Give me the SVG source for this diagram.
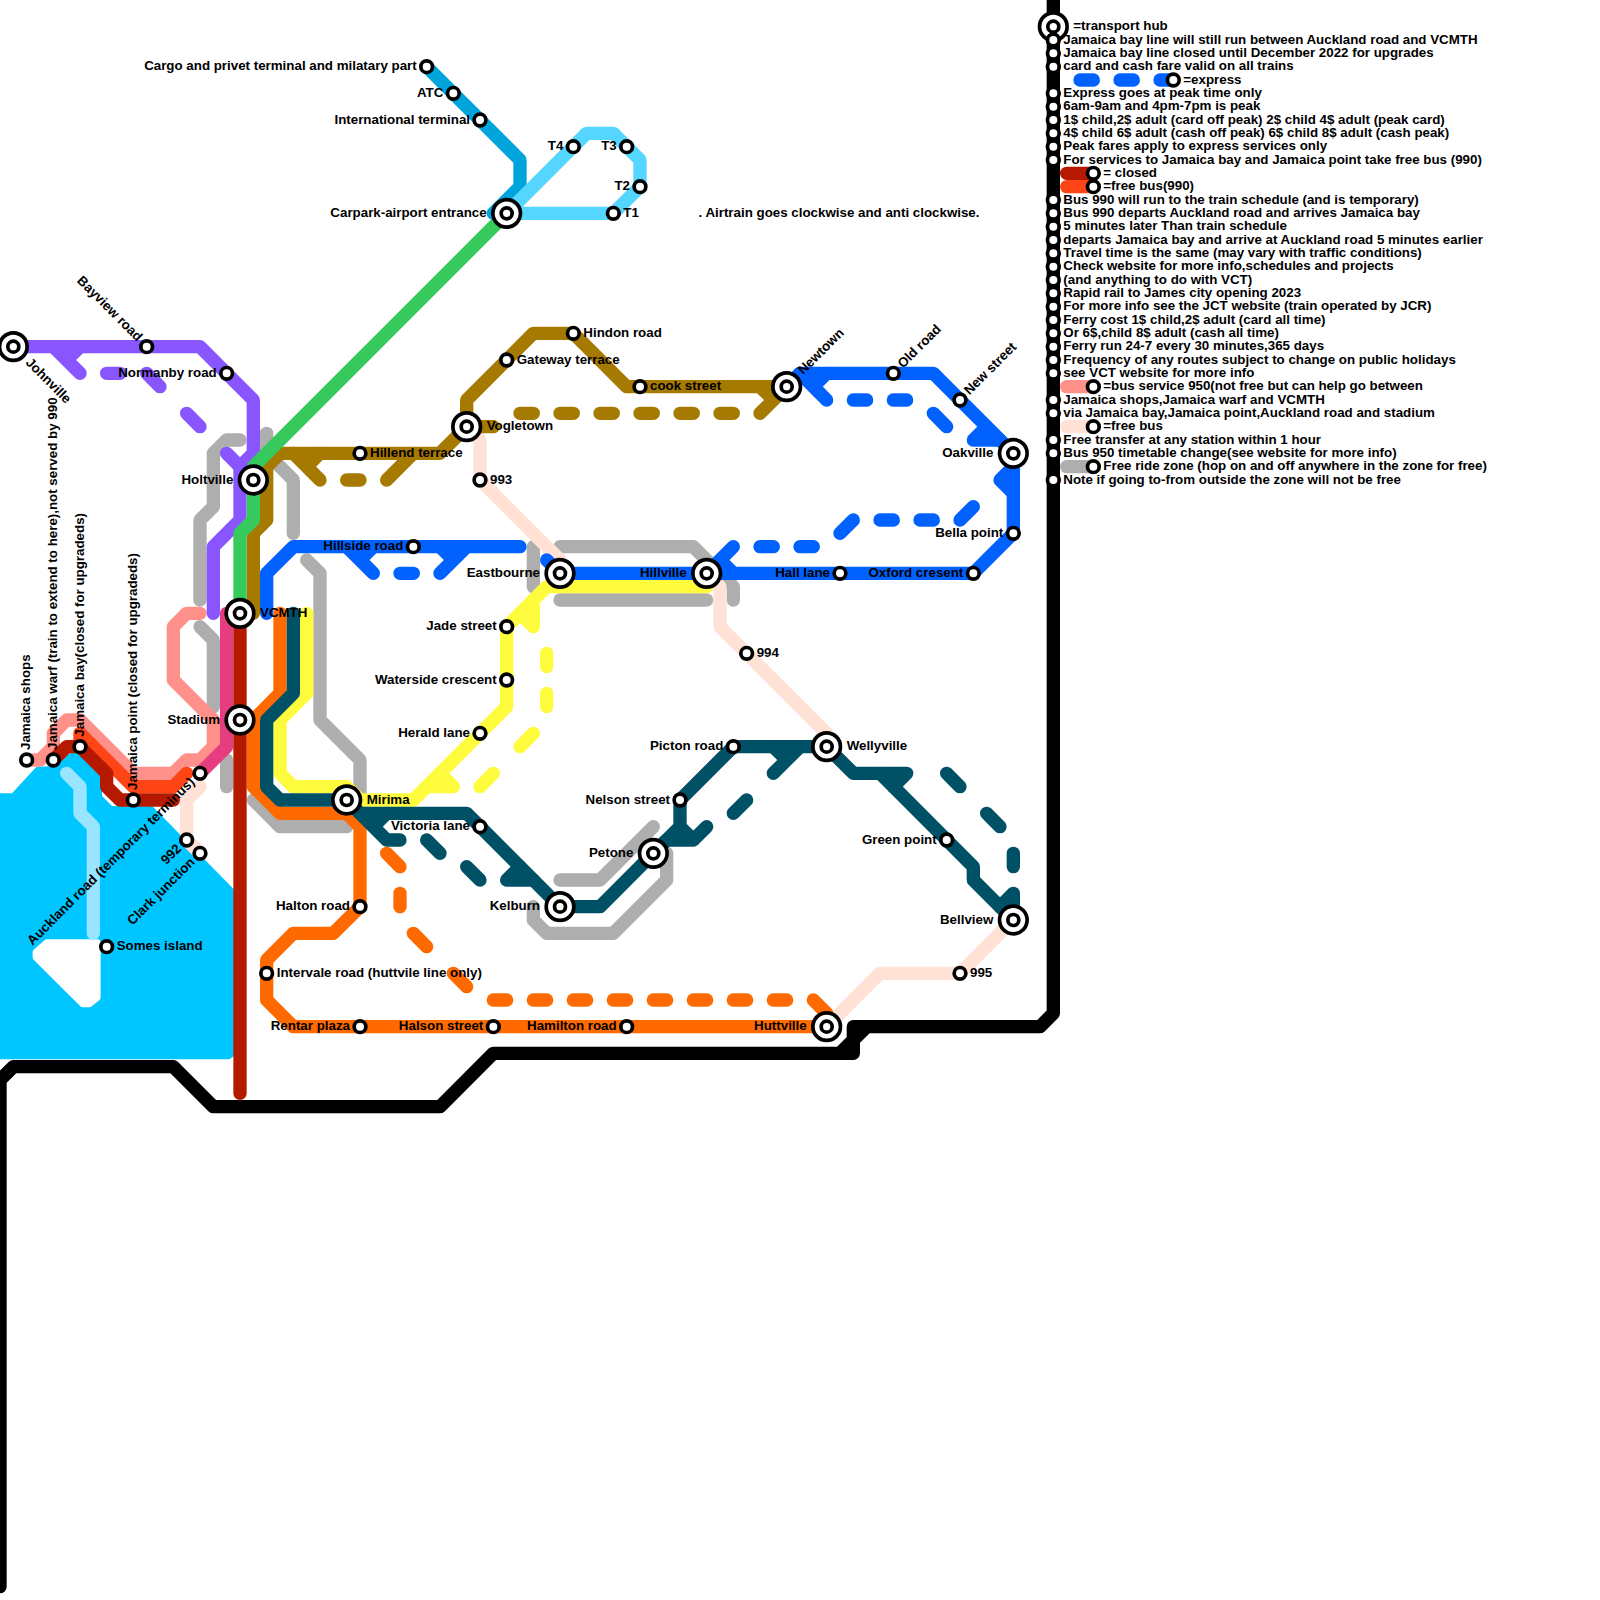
<svg xmlns="http://www.w3.org/2000/svg" width="1600" height="1600" viewBox="0 0 1600 1600">
<style>
text{font-family:"Liberation Sans",Arial,sans-serif;font-size:13.33px;font-weight:bold;fill:#000}
.e{text-anchor:end}
.l path{fill:none;stroke-width:1;stroke-linecap:round;stroke-linejoin:round}
.k path{stroke:#000}.gy path{stroke:#aeaeae}.pe path{stroke:#ffe1d6}.fe path{stroke:#99e5ff}
.pu path{stroke:#8855ff}.br path{stroke:#a67a00}.gr path{stroke:#36c95c}.bl path{stroke:#0061ff}
.ye path{stroke:#fffb3d}.or path{stroke:#ff6a00}.te path{stroke:#005066}.sa path{stroke:#ff908a}
.pi path{stroke:#e63d80}.or2 path{stroke:#ff4515}.dr path{stroke:#b51a00}.ab path{stroke:#00a4dc}.lb path{stroke:#55d6ff}
.w{fill:#00c6ff;stroke:#00c6ff;stroke-width:.5;stroke-linejoin:round}
.i{fill:#fff;stroke:#fff;stroke-width:.5;stroke-linejoin:round}
.s{fill:#fff;stroke:#000;stroke-width:3.7}
</style>
<defs>
<g id="s"><circle class="s" r="5.85"/></g>
<g id="h"><circle class="s" r="13.8"/><circle class="s" r="5.5"/></g>
</defs>
<g id="connectors" class="l" transform="scale(13.3333)">
<polygon class="w" points="0,59.75 1,59.75 2.85,57.75 4,57.7 5.4,56.7 5.7,56.7 7.4,58.2 7.4,59.8 8.3,60.7 11.3,60.7 17.4,66.9 17.4,79 17.15,79.2 0,79.2"/>
<polygon class="i" points="2.7,71.4 3.5,70.7 7.3,70.7 7.3,74.8 6.7,75.3 6.2,75.3 2.7,71.8"/>
<g class="fe"><path d="M5,58 L6,59 V61 L7,62 V70"/></g>
<g class="k">
<path d="M79,-1 V76 L78,77 H64 V78 L63,79 H37 L33,83 H16 L13,80 H1 L0,81 V119"/>
<path d="M65,77 L64,78 V79 H63"/>
</g>
<g class="gy">
<path d="M15,45 V39 L16,38 V34 L17,33 H18"/>
<path d="M19.5,33 L20,32.5 V34 L22,36 V40"/>
<path d="M23,42 L24,43 V54 L27,57 V60"/>
<path d="M15,47 L16,48 V53"/>
<path d="M17,57 V59"/>
<path d="M19,60 L21,62 H26"/>
<path d="M40,68 V69 L41,70 H46 L50,66 V64"/>
<path d="M42,66 H45 L49,62"/>
<path d="M40,41 V44"/>
<path d="M42,41 H52 L55,44 V45"/>
<path d="M42,45 H53"/>
<path d="M80,35 H82"/>
</g>
<g class="pe">
<path d="M35,32 L36,33 V36 L42,42 V43"/>
<path d="M53,43 L54,44 V47 L62,55 V56"/>
<path d="M62,77 L66,73 H72 L76,69"/>
<path d="M15,59 L14,60 V63 L15,64"/>
<path d="M80,32 H82"/>
</g>
<g class="sa">
<path d="M2,57 H3 L4,56 V55 L5,54 H6 L10,58 H13 L14,57 H15 L16,56 V54 L13,51 V47 L14,46 H15"/>
<path d="M80,29 H82"/>
</g>
<g class="pi"><path d="M17,46 V56 L15,58"/></g>
<g class="or2">
<path d="M6,56 V55 L10,59 H13 L14,58"/>
<path d="M80,14 H82"/>
</g>
<g class="dr">
<path d="M4,57 L5,56 H6 L8,58 V59 L9,60 H13"/>
<path d="M80,13 H82"/>
</g>
<g class="pu">
<path d="M1,26 H15 L19,30 V34 L18,35 V39 L16,41 V46"/>
<path d="M17,34 L18,35"/>
<path d="M4,26 L6,28 M6,26 L5,27"/>
<path d="M8,28 H9 M11,28 L12,29 M14,31 L15,32"/>
</g>
<g class="br">
<path d="M19,46 V40 L20,39 V35 L21,34 H33 L35,32 V30 L40,25 H43 L47,29 H59"/>
<path d="M22,34 L24,36 M24,34 L23,35 M26,36 H27 M29,36 L31,34"/>
<path d="M35,32 H37 M39,31 H40 M42,31 H43 M45,31 H46 M48,31 H49 M51,31 H52 M54,31 H55 M59,29 L57,31 M57,29 L58,30"/>
</g>
<g class="gr"><path d="M38,16 L19,35 V39 L18,40 V46"/></g>
<g class="ab"><path d="M32,5 L39,12 V14 L37,16"/></g>
<g class="lb"><path d="M38,16 H46 L48,14 V12 L46,10 H44 L38,16"/></g>
<g class="bl">
<path d="M20,46 V43 L22,41 H39"/>
<path d="M26,41 L28,43 M28,41 L27,42 M30,43 H31 M33,43 L35,41 M33,41 L34,42"/>
<path d="M41,42 L42,43 H73 L76,40 V34 L70,28 H60 L59,29"/>
<path d="M53,43 L55,41 M55,43 L54,42 M57,41 H58 M60,41 H61 M63,40 L64,39 M66,39 H67 M69,39 H70 M72,39 L73,38"/>
<path d="M75,36 L76,35 M75,36 L76,37"/>
<path d="M60,28 L62,30 M62,28 L61,29 M64,30 H65 M67,30 H68 M70,31 L71,32"/>
<path d="M73,33 H75 M73,33 L74,32"/>
<path d="M81,6 H82 M84,6 H85 M87,6 H88"/>
</g>
<g class="or">
<path d="M21,46 V52 L19,54 V59 L21,61 H26 L27,62 V68 L25,70 H22 L20,72 V75 L22,77 H62"/>
<path d="M29,64 L30,65 M30,67 V68 M31,70 L32,71 M34,73 L35,74"/>
<path d="M37,75 H38 M40,75 H41 M43,75 H44 M46,75 H47 M49,75 H50 M52,75 H53 M55,75 H56 M58,75 H59 M61,75 L62,76"/>
</g>
<g class="ye">
<path d="M23,46 V52 L21,54 V58 L22,59 H26 L27,60 H31 L38,53 V47 L41,44 H53"/>
<path d="M40,45 V47 L39,46"/>
<path d="M41,49 V50 M41,52 V53 M39,56 L40,55 M36,59 L37,58"/>
<path d="M34,59 L33,58 M34,59 H32"/>
</g>
<g class="te">
<path d="M22,46 V52 L20,54 V59 L21,60 H26 L27,61 H35 L42,68 H45 L49,64 L51,62 V60 L55,56 H62 L64,58 H66 L73,65 V66 L76,69"/>
<path d="M27,61 L29,63 H30 M29,61 L28,62"/>
<path d="M32,63 L33,64 M35,65 L36,66 M38,66 L39,65 M38,66 H40"/>
<path d="M49,64 L50,63 H52 L53,62 M51,62 L52,63"/>
<path d="M55,61 L56,60 M60,56 L58,58 M58,56 L59,57"/>
<path d="M66,58 H68 L67,59 M71,58 L72,59 M74,61 L75,62 M76,64 V65"/>
<path d="M76,69 V67 L75,68"/>
</g>
<g class="dr"><path d="M18,46 V82"/></g>
</g>
<g id="n-johnville"><use href="#h" x="13.33" y="346.67"/><text transform="rotate(45 13.33 346.67)" x="33.33" y="350.2">Johnville</text></g>
<g id="n-bayview"><use href="#s" x="146.67" y="346.67"/><text class="e" transform="rotate(45 146.67 346.67)" x="136.7" y="350.2">Bayview road</text></g>
<g id="n-normanby"><use href="#s" x="226.67" y="373.33"/><text class="e" x="216.7" y="376.9">Normanby road</text></g>
<g id="n-holtville"><use href="#h" x="253.33" y="480"/><text class="e" x="233.33" y="483.5">Holtville</text></g>
<g id="n-vcmth"><use href="#h" x="240" y="613.33"/><text x="260" y="616.9">VCMTH</text></g>
<g id="n-stadium"><use href="#h" x="240" y="720"/><text class="e" x="220" y="723.5">Stadium</text></g>
<g id="n-mirima"><use href="#h" x="346.67" y="800"/><text x="366.67" y="803.5">Mirima</text></g>
<g id="n-victoria"><use href="#s" x="480" y="826.67"/><text class="e" x="470" y="830.2">Victoria lane</text></g>
<g id="n-kelburn"><use href="#h" x="560" y="906.67"/><text class="e" x="540" y="910.2">Kelburn</text></g>
<g id="n-petone"><use href="#h" x="653.33" y="853.33"/><text class="e" x="633.33" y="856.9">Petone</text></g>
<g id="n-nelson"><use href="#s" x="680" y="800"/><text class="e" x="670" y="803.5">Nelson street</text></g>
<g id="n-picton"><use href="#s" x="733.33" y="746.67"/><text class="e" x="723.3" y="750.2">Picton road</text></g>
<g id="n-wellyville"><use href="#h" x="826.67" y="746.67"/><text x="846.67" y="750.2">Wellyville</text></g>
<g id="n-green"><use href="#s" x="946.67" y="840"/><text class="e" x="936.7" y="843.5">Green point</text></g>
<g id="n-bellview"><use href="#h" x="1013.33" y="920"/><text class="e" x="993.33" y="923.5">Bellview</text></g>
<g id="n-995"><use href="#s" x="960" y="973.33"/><text x="970" y="976.9">995</text></g>
<g id="n-huttville"><use href="#h" x="826.67" y="1026.67"/><text class="e" x="806.67" y="1030.2">Huttville</text></g>
<g id="n-hamilton"><use href="#s" x="626.67" y="1026.67"/><text class="e" x="616.7" y="1030.2">Hamilton road</text></g>
<g id="n-halson"><use href="#s" x="493.33" y="1026.67"/><text class="e" x="483.3" y="1030.2">Halson street</text></g>
<g id="n-rentar"><use href="#s" x="360" y="1026.67"/><text class="e" x="350" y="1030.2">Rentar plaza</text></g>
<g id="n-intervale"><use href="#s" x="266.67" y="973.33"/><text x="276.7" y="976.9">Intervale road (huttvile line only)</text></g>
<g id="n-halton"><use href="#s" x="360" y="906.67"/><text class="e" x="350" y="910.2">Halton road</text></g>
<g id="n-hillside"><use href="#s" x="413.33" y="546.67"/><text class="e" x="403.3" y="550.2">Hillside road</text></g>
<g id="n-eastbourne"><use href="#h" x="560" y="573.33"/><text class="e" x="540" y="576.9">Eastbourne</text></g>
<g id="n-hillville"><use href="#h" x="706.67" y="573.33"/><text class="e" x="686.67" y="576.9">Hillville</text></g>
<g id="n-hall"><use href="#s" x="840" y="573.33"/><text class="e" x="830" y="576.9">Hall lane</text></g>
<g id="n-oxford"><use href="#s" x="973.33" y="573.33"/><text class="e" x="963.3" y="576.9">Oxford cresent</text></g>
<g id="n-bella"><use href="#s" x="1013.33" y="533.33"/><text class="e" x="1003.3" y="536.9">Bella point</text></g>
<g id="n-oakville"><use href="#h" x="1013.33" y="453.33"/><text class="e" x="993.33" y="456.9">Oakville</text></g>
<g id="n-newstreet"><use href="#s" x="960" y="400"/><text transform="rotate(-45 960 400)" x="970" y="403.5">New street</text></g>
<g id="n-oldroad"><use href="#s" x="893.33" y="373.33"/><text transform="rotate(-45 893.33 373.33)" x="903.3" y="376.9">Old road</text></g>
<g id="n-newtown"><use href="#h" x="786.67" y="386.67"/><text transform="rotate(-45 786.67 386.67)" x="806.67" y="390.2">Newtown</text></g>
<g id="n-cook"><use href="#s" x="640" y="386.67"/><text x="650" y="390.2">cook street</text></g>
<g id="n-hindon"><use href="#s" x="573.33" y="333.33"/><text x="583.3" y="336.9">Hindon road</text></g>
<g id="n-gateway"><use href="#s" x="506.67" y="360"/><text x="516.7" y="363.5">Gateway terrace</text></g>
<g id="n-vogletown"><use href="#h" x="466.67" y="426.67"/><text x="486.67" y="430.2">Vogletown</text></g>
<g id="n-hillend"><use href="#s" x="360" y="453.33"/><text x="370" y="456.9">Hillend terrace</text></g>
<g id="n-993"><use href="#s" x="480" y="480"/><text x="490" y="483.5">993</text></g>
<g id="n-994"><use href="#s" x="746.67" y="653.33"/><text x="756.7" y="656.9">994</text></g>
<g id="n-jade"><use href="#s" x="506.67" y="626.67"/><text class="e" x="496.7" y="630.2">Jade street</text></g>
<g id="n-waterside"><use href="#s" x="506.67" y="680"/><text class="e" x="496.7" y="683.5">Waterside crescent</text></g>
<g id="n-herald"><use href="#s" x="480" y="733.33"/><text class="e" x="470" y="736.9">Herald lane</text></g>
<g id="n-cargo"><use href="#s" x="426.67" y="66.67"/><text class="e" x="416.7" y="70.2">Cargo and privet terminal and milatary part</text></g>
<g id="n-atc"><use href="#s" x="453.33" y="93.33"/><text class="e" x="443.3" y="96.9">ATC</text></g>
<g id="n-international"><use href="#s" x="480" y="120"/><text class="e" x="470" y="123.5">International terminal</text></g>
<g id="n-carpark"><use href="#h" x="506.67" y="213.33"/><text class="e" x="486.67" y="216.9">Carpark-airport entrance</text></g>
<g id="n-t4"><use href="#s" x="573.33" y="146.67"/><text class="e" x="563.3" y="150.2">T4</text></g>
<g id="n-t3"><use href="#s" x="626.67" y="146.67"/><text class="e" x="616.7" y="150.2">T3</text></g>
<g id="n-t2"><use href="#s" x="640" y="186.67"/><text class="e" x="630" y="190.2">T2</text></g>
<g id="n-t1"><use href="#s" x="613.33" y="213.33"/><text x="623.3" y="216.9">T1</text></g>
<g id="n-airtrain-note"><text x="698.5" y="216.9">. Airtrain goes clockwise and anti clockwise.</text></g>
<g id="n-jshops"><use href="#s" x="26.67" y="760"/><text transform="rotate(-90 26.67 760)" x="36.7" y="763.5">Jamaica shops</text></g>
<g id="n-jwarf"><use href="#s" x="53.33" y="760"/><text transform="rotate(-90 53.33 760)" x="63.3" y="763.5">Jamaica warf (train to extend to here),not served by 990</text></g>
<g id="n-jbay"><use href="#s" x="80" y="746.67"/><text transform="rotate(-90 80 746.67)" x="90" y="750.2">Jamaica bay(closed for upgradeds)</text></g>
<g id="n-jpoint"><use href="#s" x="133.33" y="800"/><text transform="rotate(-90 133.33 800)" x="143.3" y="803.5">Jamaica point (closed for upgradeds)</text></g>
<g id="n-auckland"><use href="#s" x="200" y="773.33"/><text class="e" transform="rotate(-45 200 773.33)" x="190" y="776.9">Auckland road (temporary terminus)</text></g>
<g id="n-992"><use href="#s" x="186.67" y="840"/><text class="e" transform="rotate(-45 186.67 840)" x="176.7" y="843.5">992</text></g>
<g id="n-clark"><use href="#s" x="200" y="853.33"/><text class="e" transform="rotate(-45 200 853.33)" x="190" y="856.9">Clark junction</text></g>
<g id="n-somes"><use href="#s" x="106.67" y="946.67"/><text x="116.7" y="950.2">Somes island</text></g>
<g id="legend">
<g id="lg-hub"><use href="#h" x="1053.33" y="26.67"/><text x="1073.3" y="30.2">=transport hub</text></g>
<g id="lg-3"><use href="#s" x="1053.33" y="40"/><text x="1063.3" y="43.5">Jamaica bay line will still run between Auckland road and VCMTH</text></g>
<g id="lg-4"><use href="#s" x="1053.33" y="53.33"/><text x="1063.3" y="56.9">Jamaica bay line closed until December 2022 for upgrades</text></g>
<g id="lg-5"><use href="#s" x="1053.33" y="66.67"/><text x="1063.3" y="70.2">card and cash fare valid on all trains</text></g>
<g id="lg-6"><use href="#s" x="1173.33" y="80"/><text x="1183.3" y="83.5">=express</text></g>
<g id="lg-7"><use href="#s" x="1053.33" y="93.33"/><text x="1063.3" y="96.9">Express goes at peak time only</text></g>
<g id="lg-8"><use href="#s" x="1053.33" y="106.67"/><text x="1063.3" y="110.2">6am-9am and 4pm-7pm is peak</text></g>
<g id="lg-9"><use href="#s" x="1053.33" y="120"/><text x="1063.3" y="123.5">1$ child,2$ adult (card off peak) 2$ child 4$ adult (peak card)</text></g>
<g id="lg-10"><use href="#s" x="1053.33" y="133.33"/><text x="1063.3" y="136.9">4$ child 6$ adult (cash off peak) 6$ child 8$ adult (cash peak)</text></g>
<g id="lg-11"><use href="#s" x="1053.33" y="146.67"/><text x="1063.3" y="150.2">Peak fares apply to express services only</text></g>
<g id="lg-12"><use href="#s" x="1053.33" y="160"/><text x="1063.3" y="163.5">For services to Jamaica bay and Jamaica point take free bus (990)</text></g>
<g id="lg-13"><use href="#s" x="1093.33" y="173.33"/><text x="1103.3" y="176.9">= closed</text></g>
<g id="lg-14"><use href="#s" x="1093.33" y="186.67"/><text x="1103.3" y="190.2">=free bus(990)</text></g>
<g id="lg-15"><use href="#s" x="1053.33" y="200"/><text x="1063.3" y="203.5">Bus 990 will run to the train schedule (and is temporary)</text></g>
<g id="lg-16"><use href="#s" x="1053.33" y="213.33"/><text x="1063.3" y="216.9">Bus 990 departs Auckland road and arrives Jamaica bay</text></g>
<g id="lg-17"><use href="#s" x="1053.33" y="226.67"/><text x="1063.3" y="230.2">5 minutes later Than train schedule</text></g>
<g id="lg-18"><use href="#s" x="1053.33" y="240"/><text x="1063.3" y="243.5">departs Jamaica bay and arrive at Auckland road 5 minutes earlier</text></g>
<g id="lg-19"><use href="#s" x="1053.33" y="253.33"/><text x="1063.3" y="256.9">Travel time is the same (may vary with traffic conditions)</text></g>
<g id="lg-20"><use href="#s" x="1053.33" y="266.67"/><text x="1063.3" y="270.2">Check website for more info,schedules and projects</text></g>
<g id="lg-21"><use href="#s" x="1053.33" y="280"/><text x="1063.3" y="283.5">(and anything to do with VCT)</text></g>
<g id="lg-22"><use href="#s" x="1053.33" y="293.33"/><text x="1063.3" y="296.9">Rapid rail to James city opening 2023</text></g>
<g id="lg-23"><use href="#s" x="1053.33" y="306.67"/><text x="1063.3" y="310.2">For more info see the JCT website (train operated by JCR)</text></g>
<g id="lg-24"><use href="#s" x="1053.33" y="320"/><text x="1063.3" y="323.5">Ferry cost 1$ child,2$ adult (card all time)</text></g>
<g id="lg-25"><use href="#s" x="1053.33" y="333.33"/><text x="1063.3" y="336.9">Or 6$,child 8$ adult (cash all time)</text></g>
<g id="lg-26"><use href="#s" x="1053.33" y="346.67"/><text x="1063.3" y="350.2">Ferry run 24-7 every 30 minutes,365 days</text></g>
<g id="lg-27"><use href="#s" x="1053.33" y="360"/><text x="1063.3" y="363.5">Frequency of any routes subject to change on public holidays</text></g>
<g id="lg-28"><use href="#s" x="1053.33" y="373.33"/><text x="1063.3" y="376.9">see VCT website for more info</text></g>
<g id="lg-29"><use href="#s" x="1093.33" y="386.67"/><text x="1103.3" y="390.2">=bus service 950(not free but can help go between</text></g>
<g id="lg-30"><use href="#s" x="1053.33" y="400"/><text x="1063.3" y="403.5">Jamaica shops,Jamaica warf and VCMTH</text></g>
<g id="lg-31"><use href="#s" x="1053.33" y="413.33"/><text x="1063.3" y="416.9">via Jamaica bay,Jamaica point,Auckland road and stadium</text></g>
<g id="lg-32"><use href="#s" x="1093.33" y="426.67"/><text x="1103.3" y="430.2">=free bus</text></g>
<g id="lg-33"><use href="#s" x="1053.33" y="440"/><text x="1063.3" y="443.5">Free transfer at any station within 1 hour</text></g>
<g id="lg-34"><use href="#s" x="1053.33" y="453.33"/><text x="1063.3" y="456.9">Bus 950 timetable change(see website for more info)</text></g>
<g id="lg-35"><use href="#s" x="1093.33" y="466.67"/><text x="1103.3" y="470.2">Free ride zone (hop on and off anywhere in the zone for free)</text></g>
<g id="lg-36"><use href="#s" x="1053.33" y="480"/><text x="1063.3" y="483.5">Note if going to-from outside the zone will not be free</text></g>
</g>
</svg>
